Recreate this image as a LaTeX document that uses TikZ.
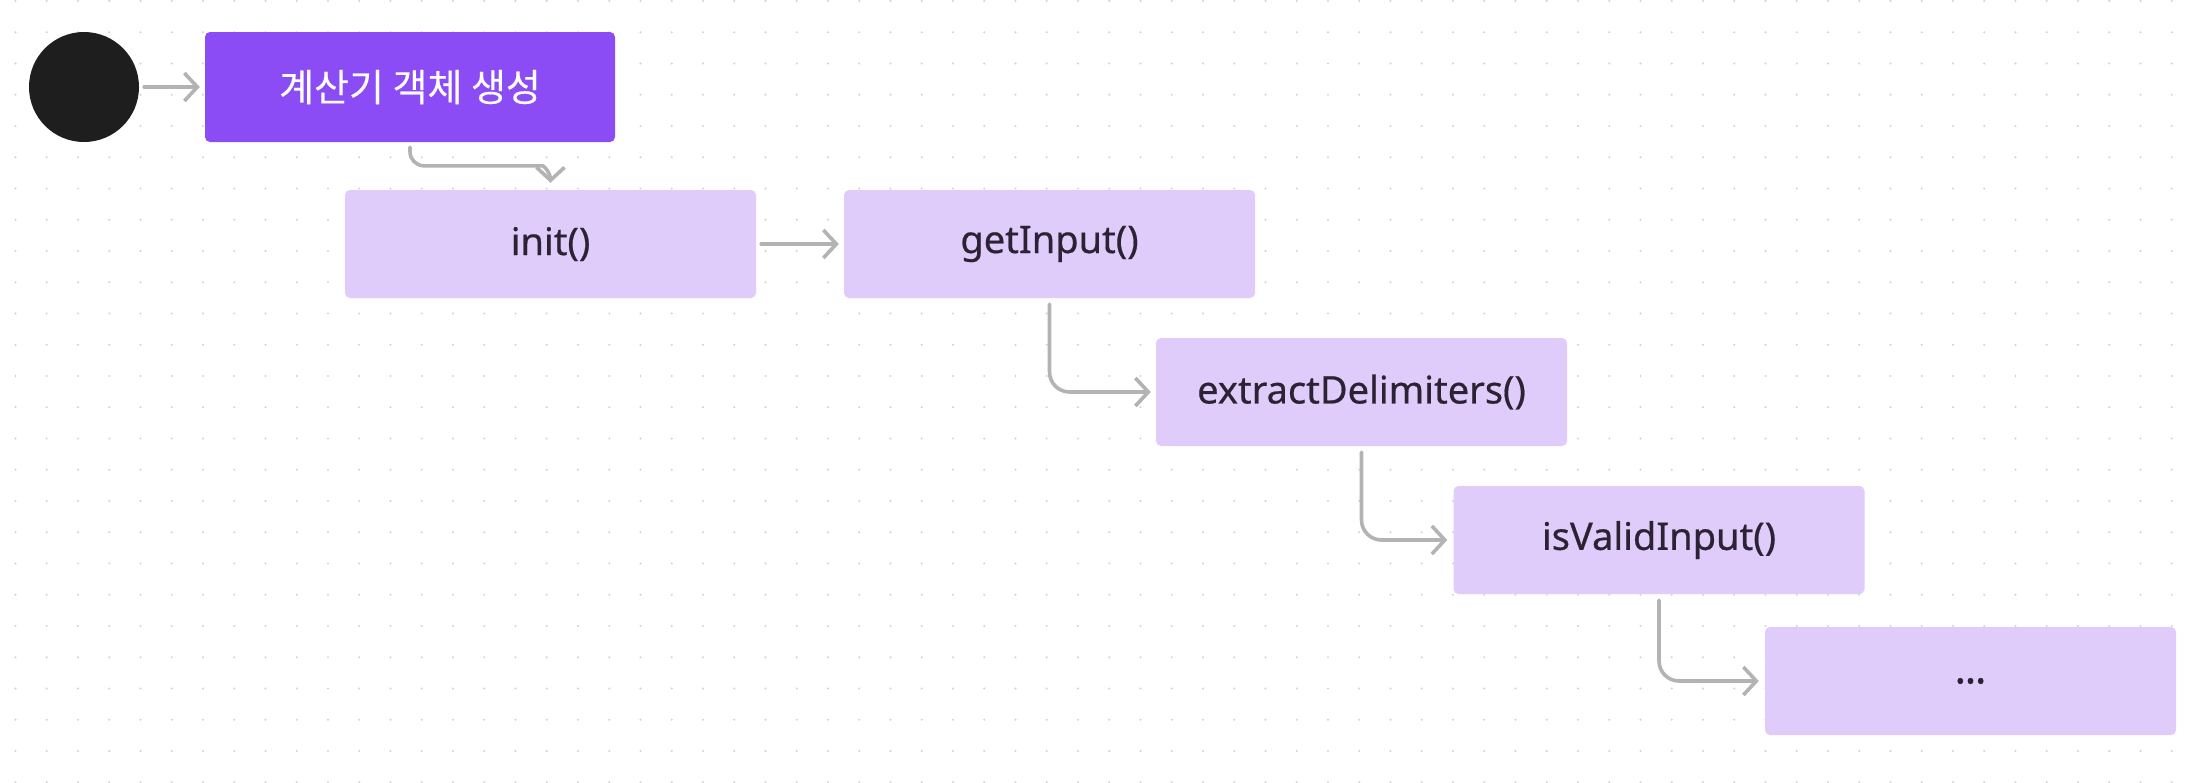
\documentclass[tikz,border=0pt]{standalone}
\usepackage{fontspec}
\setmainfont{Noto Sans}
\newfontfamily\labelfont[FakeBold=0.5]{Noto Sans}
\newfontfamily\dotsfont[FakeBold=2.5]{Noto Sans}
\newfontfamily\krfont[FakeBold=0.3]{Noto Sans CJK KR}
\usetikzlibrary{arrows.meta,calc}
\definecolor{gridgray}{HTML}{D2D2D2}
\definecolor{mainpurple}{HTML}{8C4CF5}
\definecolor{lightpurple}{HTML}{E0CCFA}
\definecolor{darktext}{HTML}{2B2233}
\definecolor{linegray}{HTML}{B3B3B3}
\definecolor{startblack}{HTML}{1E1E1E}
\begin{document}
\begin{tikzpicture}[x=1pt,y=-1pt,
  lightbox/.style={rectangle, rounded corners=5pt, fill=lightpurple, draw=none,
    minimum width=411pt, minimum height=108pt, inner sep=0pt, text=darktext,
    font=\labelfont\fontsize{38}{44}\selectfont},
  mainbox/.style={rectangle, rounded corners=5pt, fill=mainpurple, draw=none,
    minimum width=410pt, minimum height=110pt, inner sep=0pt, text=white,
    font=\krfont\fontsize{38}{44}\selectfont},
  conn/.style={draw=linegray, line width=3.6pt, line cap=round, line join=round,
    -{Straight Barb[length=13pt,width=28pt,line width=3.6pt]}},
]
\path[use as bounding box] (0,0) rectangle (2198,782);
\fill[white] (0,0) rectangle (2198,782);
% dot grid
\foreach \i in {0,...,70}{
  \foreach \j in {0,...,25}{
    \fill[gridgray] ({15.5+31.25*\i},{1+31.25*\j}) circle (1.2pt);
  }
}
% nodes
\node[circle, fill=startblack, minimum size=110pt, inner sep=0pt] (start) at (84,87) {};
\node[mainbox] (create) at (410,87) {계산기 객체 생성};
\node[lightbox] (init) at (550.5,244) {init()};
\node[lightbox] (get) at (1049.5,244) {getInput()};
\node[lightbox] (extract) at (1361.5,392) {extractDelimiters()};
\node[lightbox] (valid) at (1659,540) {isValidInput()};
\node[lightbox] (more) at (1970.5,681) {\dotsfont ...};
% connectors
\draw[conn, shorten <=5pt, shorten >=5pt] (start.east) -- (create.west);
\draw[conn, shorten <=5pt, shorten >=5pt] (init.east) -- (get.west);
\draw[conn, rounded corners=14pt] ($(create.south)+(0,5)$) |- ($(init.north)+(-22,-24)$)
   .. controls ($(init.north)+(-6,-24)$) and ($(init.north)+(0,-16)$) .. ($(init.north)+(0,-7)$);
\draw[conn, rounded corners=20pt] ($(get.south)+(0,6)$) |- ($(extract.west)+(-5,0)$);
\draw[conn, rounded corners=20pt] ($(extract.south)+(0,6)$) |- ($(valid.west)+(-6,0)$);
\draw[conn, rounded corners=20pt] ($(valid.south)+(0,6)$) |- ($(more.west)+(-6,0)$);
\end{tikzpicture}
\end{document}
